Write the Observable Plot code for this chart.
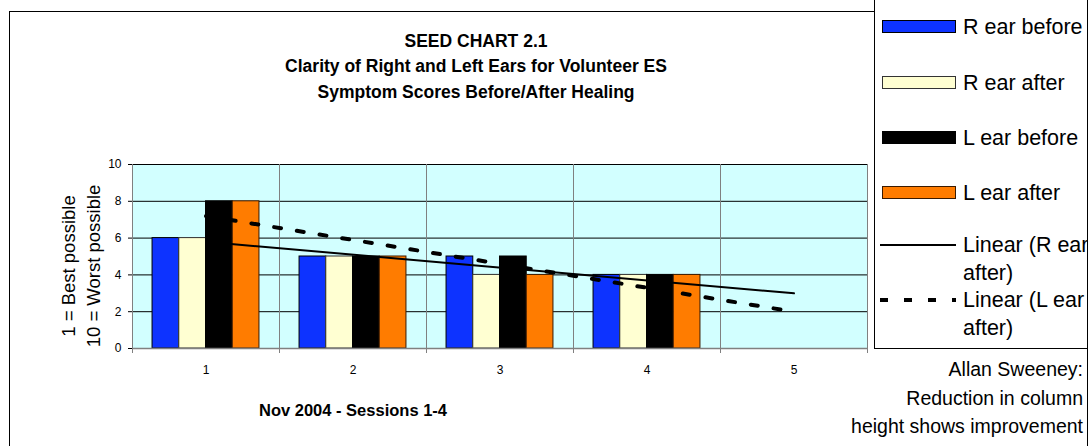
<!DOCTYPE html>
<html><head><meta charset="utf-8">
<script src="https://cdn.jsdelivr.net/npm/d3@7"></script>
<script src="https://cdn.jsdelivr.net/npm/@observablehq/plot@0.6"></script>
<style>
body{margin:0;background:#fff;}
#root{position:relative;width:1089px;height:446px;overflow:hidden;background:#fff;font-family:Arial,"Liberation Sans",sans-serif;color:#000;}
#root svg{position:absolute;left:0;top:0;}
.abs{position:absolute;white-space:nowrap;}
.box{position:absolute;box-sizing:border-box;border:1px solid #000;overflow:hidden;}
</style></head><body><div id="root"></div>
<script>
// ---- data ----
const sessions = ["1","2","3","4","5"];
const seriesNames = ["R ear before","R ear after","L ear before","L ear after"];
const rEarBefore = [6,5,5,4];
const rEarAfter  = [6,5,4,4];
const lEarBefore = [8,5,5,4];
const lEarAfter  = [8,5,4,4];
const trendNames = ["Linear (R ear after)","Linear (L ear after)"];
const trendSessions = ["1","5"];
const trendRAfter = [5.8,3.0];
const trendLAfter = [7.2,2.0];
const yTicks = [0,2,4,6,8,10];
const titleLines = ["SEED CHART 2.1","Clarity of Right and Left Ears for Volunteer ES","Symptom Scores Before/After Healing"];
const xTitle = "Nov 2004 - Sessions 1-4";
const yTitleLines = ["1 = Best possible","10 = Worst possible"];
const noteLines = ["Allan Sweeney:","Reduction in column","height shows improvement"];

// ---- style ----
const seriesFill = ["#0d33ff","#ffffd2","#000000","#ff7c00"];
const seriesStroke = ["#000","#333","#000","#3a1a00"];
const W = 1089, H = 446, mL = 132, mR = 222, mT = 164, mB = 98;
const bandW = (W - mL - mR) / sessions.length;
const barW = bandW / 5.5;
const gap = (bandW - 4 * barW) / 2;

const seriesValues = [rEarBefore, rEarAfter, lEarBefore, lEarAfter];
const barMarks = seriesValues.map((vals, i) => Plot.barY(
  vals.map((v, j) => ({session: sessions[j], value: v, series: seriesNames[i]})),
  {x: "session", y: "value", fill: seriesFill[i], stroke: seriesStroke[i], strokeWidth: 1,
   insetLeft: gap + i * barW, insetRight: bandW - gap - (i + 1) * barW}
));
const trendR = trendSessions.map((s, k) => ({session: s, value: trendRAfter[k]}));
const trendL = trendSessions.map((s, k) => ({session: s, value: trendLAfter[k]}));

const chart = Plot.plot({
  width: W, height: H, marginLeft: mL, marginRight: mR, marginTop: mT, marginBottom: mB,
  style: {fontFamily: "Arial, 'Liberation Sans', sans-serif", fontSize: "12px", background: "transparent", color: "#000"},
  x: {type: "band", domain: sessions, padding: 0, tickSize: 0, tickPadding: 17, label: null},
  y: {domain: [0, 10], ticks: yTicks, tickSize: 4, tickPadding: 7, label: null},
  marks: [
    Plot.frame({fill: "#d2ffff", stroke: null}),
    Plot.ruleY(yTicks, {stroke: "#000", strokeWidth: 1}),
    Plot.ruleX(sessions, {dx: -bandW / 2, stroke: "#808080", strokeWidth: 1, insetBottom: -5}),
    Plot.ruleX([sessions[sessions.length - 1]], {dx: bandW / 2, stroke: "#808080", strokeWidth: 1, insetBottom: -5}),
    ...barMarks,
    Plot.ruleY([0], {stroke: "#808080", strokeWidth: 1.5}),
    Plot.line(trendR, {x: "session", y: "value", stroke: "#000", strokeWidth: 2}),
    Plot.line(trendL, {x: "session", y: "value", stroke: "#000", strokeWidth: 4, strokeDasharray: "7,16"})
  ]
});

const root = document.getElementById("root");
function el(parent, cls, css, text) {
  const d = document.createElement("div");
  d.className = cls;
  Object.assign(d.style, css);
  if (text != null) d.textContent = text;
  parent.appendChild(d);
  return d;
}
// outer chart border
el(root, "box", {left: "9px", top: "11px", width: "1079px", height: "520px"});
root.appendChild(chart);

// title
const titleY = [41, 66, 92];
titleLines.forEach((t, i) => el(root, "abs", {left: "476px", top: (titleY[i] - 12) + "px", lineHeight: "24px",
  transform: "translateX(-50%)", fontSize: "17.5px", fontWeight: "bold"}, t));
// x title
el(root, "abs", {left: "353px", top: (410 - 12) + "px", lineHeight: "24px", transform: "translateX(-50%)", fontSize: "16.5px", fontWeight: "bold"}, xTitle);
// y titles
const yt = el(root, "abs", {left: "81px", top: "266px", width: "400px", textAlign: "center", fontSize: "18.5px", lineHeight: "25px",
  transform: "translate(-50%,-50%) rotate(-90deg)"});
yt.innerHTML = yTitleLines.join("<br>");

// legend
const lg = el(root, "box", {left: "874px", top: "-2px", width: "214px", height: "351px", background: "#fff"});
const ox = 875, oy = -1;
const swY = [20, 76, 131, 186];
seriesNames.forEach((n, i) => {
  el(lg, "abs", {left: (882 - ox) + "px", top: (swY[i] - oy) + "px", width: "74px", height: "13px", boxSizing: "border-box",
    background: seriesFill[i], border: "1px solid " + seriesStroke[i]});
  el(lg, "abs", {left: (963 - ox) + "px", top: (swY[i] + 6.5 - 13 - oy) + "px", lineHeight: "26px", fontSize: "21.5px"}, n);
});
const lineY = [245, 300];
const svgNS = "http://www.w3.org/2000/svg";
trendNames.forEach((n, i) => {
  const s = document.createElementNS(svgNS, "svg");
  s.setAttribute("width", 80); s.setAttribute("height", 8);
  s.style.position = "absolute"; s.style.left = (880 - ox) + "px"; s.style.top = (lineY[i] - 4 - oy) + "px";
  const l = document.createElementNS(svgNS, "line");
  l.setAttribute("x1", 0); l.setAttribute("x2", 76); l.setAttribute("y1", 4); l.setAttribute("y2", 4);
  l.setAttribute("stroke", "#000");
  l.setAttribute("stroke-width", i === 0 ? 2 : 4);
  if (i === 1) l.setAttribute("stroke-dasharray", "8,16");
  s.appendChild(l); lg.appendChild(s);
  const words = n.split(" ");
  const first = words.slice(0, -1).join(" "), second = words[words.length - 1];
  el(lg, "abs", {left: (963 - ox) + "px", top: (lineY[i] - 13 - oy) + "px", lineHeight: "26px", fontSize: "21.5px"}, first);
  el(lg, "abs", {left: (963 - ox) + "px", top: (lineY[i] + 28 - 13 - oy) + "px", lineHeight: "26px", fontSize: "21.5px"}, second);
});

// note
const nb = el(root, "abs", {left: "10px", top: "349px", width: "1076px", height: "97px", overflow: "hidden"});
const noteY = [369, 398, 426];
noteLines.forEach((t, i) => el(nb, "abs", {right: "3px", top: (noteY[i] - 13 - 349) + "px", lineHeight: "26px", fontSize: "19.5px"}, t));
</script></body></html>
